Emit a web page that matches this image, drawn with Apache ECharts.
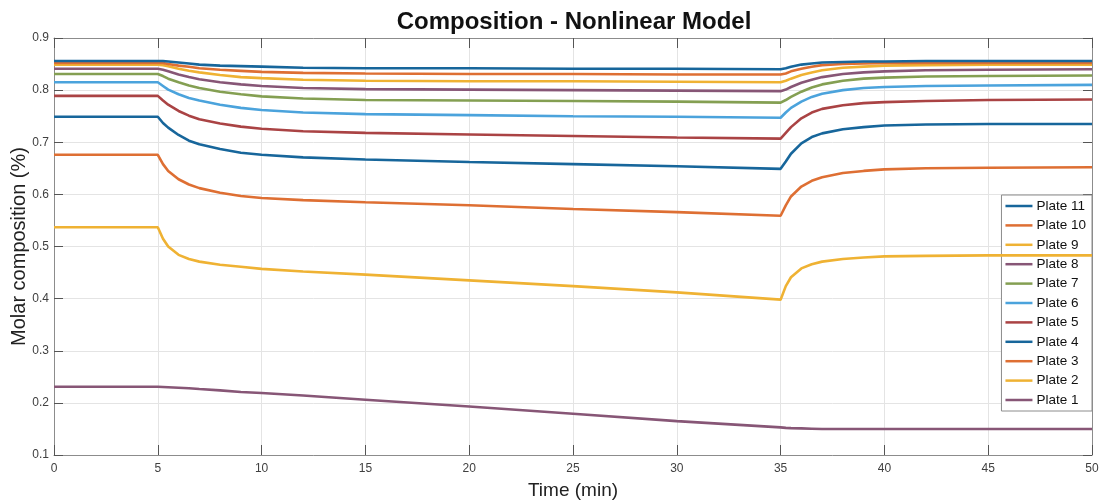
<!DOCTYPE html>
<html>
<head>
<meta charset="utf-8">
<script src="https://cdn.jsdelivr.net/npm/echarts@6/dist/echarts.min.js"></script>
<style>
html,body{margin:0;padding:0;background:#fff;}
#chart{width:1100px;height:500px;}
</style>
</head>
<body>
<div id="chart"></div>
<script>
// Time samples (min)
const times = [0, 5, 5.25, 5.5, 6, 6.5, 7, 8, 9, 10, 12, 15, 20, 25, 30, 35, 35.25, 35.5, 36, 36.5, 37, 38, 39, 40, 42, 45, 50];

const plate11 = [0.856,0.856,0.856,0.855,0.853,0.851,0.849,0.847,0.846,0.845,0.843,0.842,0.842,0.841,0.841,0.840,0.842,0.845,0.849,0.851,0.853,0.854,0.855,0.855,0.856,0.856,0.856];
const plate10 = [0.852,0.852,0.852,0.850,0.847,0.845,0.842,0.839,0.837,0.835,0.833,0.832,0.831,0.831,0.830,0.830,0.832,0.836,0.841,0.845,0.848,0.850,0.851,0.852,0.852,0.852,0.852];
const plate9  = [0.849,0.849,0.848,0.846,0.841,0.837,0.834,0.829,0.825,0.823,0.820,0.818,0.817,0.817,0.816,0.815,0.818,0.822,0.829,0.834,0.838,0.843,0.845,0.847,0.848,0.849,0.849];
const plate8  = [0.841,0.841,0.839,0.836,0.830,0.825,0.821,0.815,0.811,0.808,0.804,0.802,0.801,0.800,0.799,0.798,0.801,0.806,0.814,0.820,0.825,0.831,0.834,0.836,0.838,0.839,0.840];
const plate7  = [0.831,0.831,0.827,0.822,0.815,0.809,0.804,0.797,0.792,0.788,0.784,0.781,0.780,0.779,0.778,0.776,0.781,0.787,0.797,0.805,0.811,0.818,0.822,0.824,0.826,0.827,0.828];
const plate6  = [0.815,0.815,0.808,0.801,0.792,0.785,0.780,0.772,0.766,0.762,0.757,0.754,0.752,0.750,0.749,0.747,0.757,0.766,0.778,0.787,0.793,0.800,0.804,0.806,0.808,0.809,0.810];
const plate5  = [0.789,0.789,0.780,0.772,0.760,0.751,0.744,0.736,0.730,0.726,0.721,0.718,0.715,0.712,0.709,0.707,0.718,0.729,0.746,0.757,0.764,0.771,0.775,0.777,0.779,0.781,0.782];
const plate4  = [0.749,0.749,0.737,0.728,0.714,0.703,0.696,0.687,0.680,0.676,0.671,0.667,0.662,0.658,0.654,0.649,0.663,0.678,0.698,0.710,0.717,0.725,0.729,0.732,0.734,0.735,0.735];
const plate3  = [0.676,0.676,0.658,0.645,0.629,0.619,0.612,0.603,0.597,0.593,0.589,0.585,0.579,0.572,0.566,0.559,0.579,0.596,0.615,0.626,0.633,0.641,0.645,0.648,0.650,0.651,0.652];
const plate2  = [0.537,0.537,0.515,0.500,0.484,0.476,0.471,0.465,0.461,0.457,0.452,0.446,0.435,0.424,0.412,0.398,0.424,0.441,0.458,0.466,0.471,0.476,0.479,0.481,0.482,0.483,0.483];
const plate1  = [0.231,0.231,0.2305,0.230,0.229,0.228,0.2265,0.224,0.221,0.219,0.214,0.206,0.193,0.179,0.165,0.153,0.152,0.1515,0.151,0.1505,0.150,0.150,0.150,0.150,0.150,0.150,0.150];

const seriesNames = ['Plate 11','Plate 10','Plate 9','Plate 8','Plate 7','Plate 6','Plate 5','Plate 4','Plate 3','Plate 2','Plate 1'];
const seriesValues = [plate11, plate10, plate9, plate8, plate7, plate6, plate5, plate4, plate3, plate2, plate1];
const seriesColors = ['#17669b','#de6f33','#efb233','#875676','#849f52','#4ba3dc','#aa4344','#17669b','#de6f33','#efb233','#875676'];

const xTicks = [0, 50, 5];   // min, max, interval
const yTicks = [0.1, 0.9, 0.1];

const chart = echarts.init(document.getElementById('chart'));
const FONT = 'Liberation Sans, Arial, sans-serif';
const axisLineStyle = {color: '#8c8c8c', width: 1};

const series = seriesNames.map((n, i) => ({
  name: n,
  type: 'line',
  xAxisIndex: 0,
  yAxisIndex: 0,
  showSymbol: false,
  symbol: 'none',
  data: times.map((t, k) => [t, seriesValues[i][k]]),
  lineStyle: {width: 2.6, color: seriesColors[i]},
  itemStyle: {color: seriesColors[i]},
  z: 2 + (seriesNames.length - i),
  animation: false
}));

chart.setOption({
  animation: false,
  backgroundColor: '#ffffff',
  title: {
    text: 'Composition - Nonlinear Model',
    left: 569,
    textAlign: 'center',
    top: 5,
    textStyle: {fontFamily: FONT, fontSize: 24, fontWeight: 'bold', color: '#111'}
  },
  grid: {left: 54, right: 8, top: 38, bottom: 45, containLabel: false, outerBoundsMode: 'none'},
  legend: {
    data: seriesNames,
    orient: 'vertical',
    right: 8,
    top: 195,
    icon: 'rect',
    itemWidth: 27,
    itemHeight: 2.5,
    itemGap: 3.4,
    padding: [3, 6, 3, 4],
    backgroundColor: '#fff',
    borderColor: '#8c8c8c',
    borderWidth: 1,
    borderRadius: 0,
    textStyle: {fontFamily: FONT, fontSize: 13.5, color: '#111', lineHeight: 16, padding: [0,0,0,-1]}
  },
  xAxis: [{
    type: 'value',
    min: xTicks[0], max: xTicks[1], interval: xTicks[2],
    name: 'Time (min)',
    nameLocation: 'middle',
    nameGap: 26,
    nameMoveOverlap: false,
    nameTextStyle: {fontFamily: FONT, fontSize: 19, color: '#222'},
    axisLine: {show: true, onZero: false, lineStyle: axisLineStyle},
    axisTick: {show: true, inside: true, length: 10, lineStyle: {color: '#555'}},
    axisLabel: {fontFamily: FONT, fontSize: 12, color: '#404040', margin: 8},
    splitLine: {show: true, lineStyle: {color: '#e4e4e4', width: 1}}
  }, {
    type: 'value',
    position: 'top',
    min: xTicks[0], max: xTicks[1], interval: xTicks[2],
    axisLine: {show: true, onZero: false, lineStyle: axisLineStyle},
    axisTick: {show: true, inside: true, length: 10, lineStyle: {color: '#555'}},
    axisLabel: {show: false},
    splitLine: {show: false}
  }],
  yAxis: [{
    type: 'value',
    min: yTicks[0], max: yTicks[1], interval: yTicks[2],
    name: 'Molar composition (%)',
    nameLocation: 'middle',
    nameGap: 25,
    nameMoveOverlap: false,
    nameTextStyle: {fontFamily: FONT, fontSize: 20, color: '#222'},
    axisLine: {show: true, onZero: false, lineStyle: axisLineStyle},
    axisTick: {show: true, inside: true, length: 9, lineStyle: {color: '#555'}},
    axisLabel: {fontFamily: FONT, fontSize: 12, color: '#404040', margin: 5,
      formatter: v => (Math.round(v * 10) / 10).toString()},
    splitLine: {show: true, lineStyle: {color: '#e4e4e4', width: 1}}
  }, {
    type: 'value',
    position: 'right',
    min: yTicks[0], max: yTicks[1], interval: yTicks[2],
    axisLine: {show: true, onZero: false, lineStyle: axisLineStyle},
    axisTick: {show: true, inside: true, length: 9, lineStyle: {color: '#555'}},
    axisLabel: {show: false},
    splitLine: {show: false}
  }],
  series: series
});
</script>
</body>
</html>
